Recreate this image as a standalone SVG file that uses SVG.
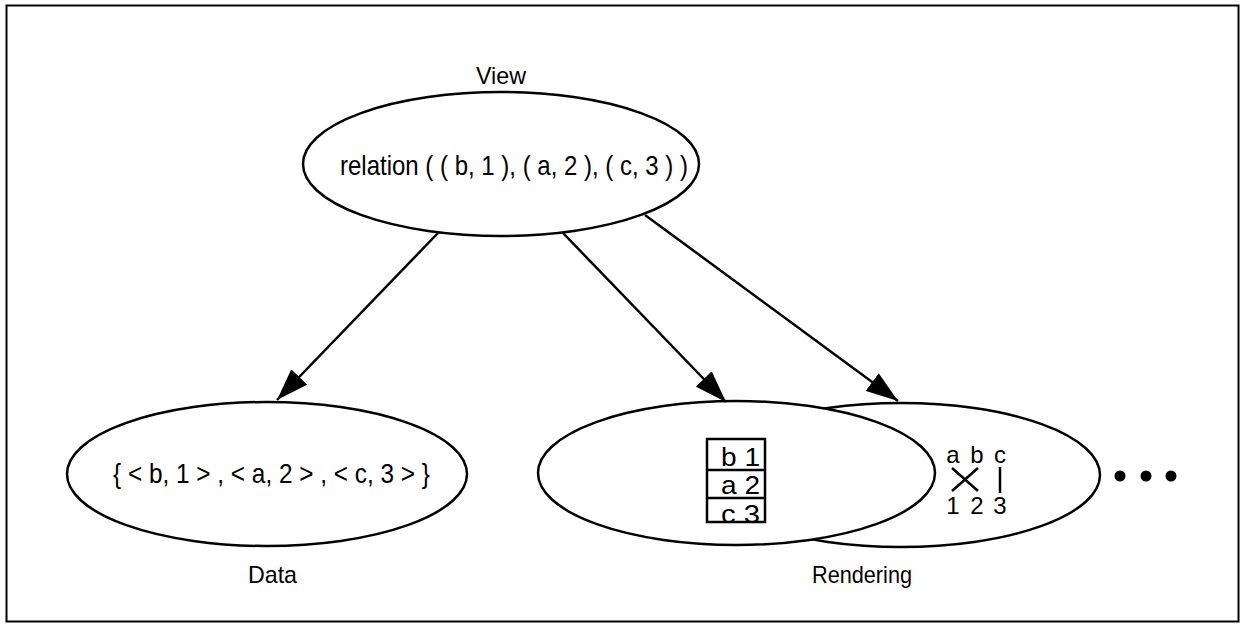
<svg xmlns="http://www.w3.org/2000/svg" width="1241" height="624" viewBox="0 0 1241 624">
  <style>
    .shape { fill: #fff; stroke: #000; stroke-width: 2.5; }
    .line { fill: none; stroke: #000; stroke-width: 2.5; }
    .txt { font-family: "Liberation Sans", Arial, sans-serif; fill: #000; }
    .label { font-size: 24px; }
    .main { font-size: 28px; }
    .cell { font-size: 25px; }
    .small { font-size: 24px; text-anchor: middle; }
  </style>
  <defs>
    <marker id="arrow" markerUnits="userSpaceOnUse" viewBox="0 0 32 22" refX="32" refY="11" markerWidth="32" markerHeight="22" orient="auto">
      <path d="M0,0 L32,11 L0,22 z" fill="#000"/>
    </marker>
    <clipPath id="tableClip">
      <rect x="707" y="439" width="58" height="83"/>
    </clipPath>
  </defs>

  <rect x="6.5" y="5.5" width="1232" height="616" fill="#fff" stroke="#000" stroke-width="2"/>

  <!-- view node -->
  <g id="view">
    <text class="txt label" x="476" y="84" textLength="50" lengthAdjust="spacingAndGlyphs">View</text>
    <ellipse class="shape" cx="501" cy="164" rx="198" ry="72"/>
    <text class="txt main" x="340" y="175" textLength="348" lengthAdjust="spacingAndGlyphs">relation ( ( b, 1 ), ( a, 2 ), ( c, 3 ) )</text>
  </g>

  <!-- data node -->
  <g id="data">
    <ellipse class="shape" cx="267" cy="474" rx="200" ry="72"/>
    <text class="txt main" x="113" y="483" textLength="317" lengthAdjust="spacingAndGlyphs">{ &lt; b, 1 &gt; , &lt; a, 2 &gt; , &lt; c, 3 &gt; }</text>
    <text class="txt label" x="248" y="583" textLength="49" lengthAdjust="spacingAndGlyphs">Data</text>
  </g>

  <!-- rendering nodes: graph rendering behind, table rendering in front -->
  <g id="rendering-graph">
    <ellipse class="shape" cx="901" cy="475" rx="199" ry="72"/>
    <text class="txt small" x="953" y="463">a</text>
    <text class="txt small" x="977" y="463">b</text>
    <text class="txt small" x="1000" y="463">c</text>
    <path class="line" d="M952,468 L978,491 M978,468 L952,491 M1000,467 L1000,493"/>
    <text class="txt small" x="953" y="514">1</text>
    <text class="txt small" x="977" y="514">2</text>
    <text class="txt small" x="1000" y="514">3</text>
  </g>

  <g id="rendering-table">
    <ellipse class="shape" cx="736.5" cy="473" rx="198.5" ry="72"/>
    <g clip-path="url(#tableClip)">
      <text class="txt cell" x="721" y="466" textLength="39" lengthAdjust="spacingAndGlyphs">b 1</text>
      <text class="txt cell" x="721" y="494" textLength="39" lengthAdjust="spacingAndGlyphs">a 2</text>
      <text class="txt cell" x="721" y="523" textLength="39" lengthAdjust="spacingAndGlyphs">c 3</text>
    </g>
    <rect x="707" y="439" width="58" height="83" fill="none" stroke="#000" stroke-width="2.5"/>
    <path class="line" d="M707,470 L765,470 M707,498 L765,498"/>
  </g>

  <g id="more">
    <circle cx="1120" cy="476" r="5.5" fill="#000"/>
    <circle cx="1146" cy="476" r="5.5" fill="#000"/>
    <circle cx="1171" cy="476" r="5.5" fill="#000"/>
  </g>

  <text id="rendering-label" class="txt label" x="812" y="583" textLength="100" lengthAdjust="spacingAndGlyphs">Rendering</text>

  <!-- connectors -->
  <g id="connectors">
    <line class="line" x1="438" y1="233" x2="277" y2="400" marker-end="url(#arrow)"/>
    <line class="line" x1="563" y1="233" x2="726" y2="402" marker-end="url(#arrow)"/>
    <line class="line" x1="645" y1="215" x2="898" y2="401" marker-end="url(#arrow)"/>
  </g>
</svg>
